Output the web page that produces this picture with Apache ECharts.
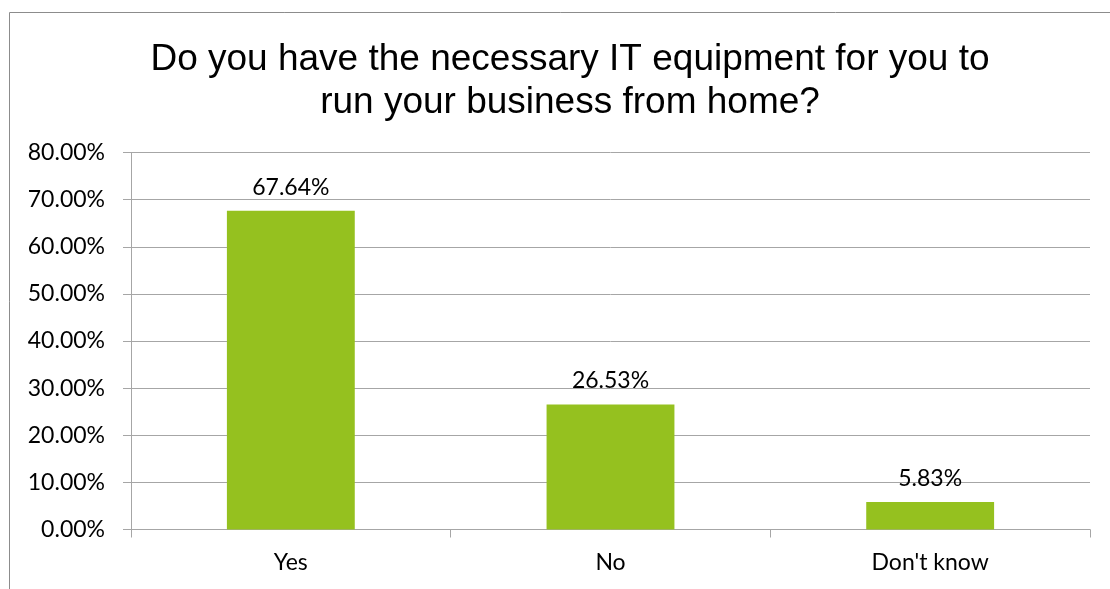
<!DOCTYPE html>
<html>
<head>
<meta charset="utf-8">
<script src="https://cdn.jsdelivr.net/npm/echarts@6/dist/echarts.min.js"></script>
<style>
  html, body { margin: 0; padding: 0; background: #fff; }
  #chart { width: 1110px; height: 589px; }
</style>
</head>
<body>
<div id="chart"></div>
<script>
// Survey answers and their shares
const categories = ['Yes', 'No', "Don't know"];
const shares = [0.6764, 0.2653, 0.0583];
const titleText = 'Do you have the necessary IT equipment for you to\nrun your business from home?';

const axisGray = '#a6a6a6';
const labelFont = 'Lato, "Open Sans", sans-serif';
const labelSize = 23;

const chart = echarts.init(document.getElementById('chart'));
chart.setOption({
  animation: false,
  backgroundColor: '#ffffff',
  graphic: [{
    type: 'rect',
    shape: { x: 9.5, y: 12.5, width: 1300, height: 800 },
    style: { fill: 'none', stroke: '#8c8c8c', lineWidth: 1 },
    silent: true
  }],
  title: {
    text: titleText,
    left: 565,
    top: 33,
    textAlign: 'center',
    textStyle: {
      fontFamily: '"Liberation Sans", Arial, sans-serif',
      fontSize: 37,
      fontWeight: 'normal',
      color: '#000',
      lineHeight: 43
    }
  },
  grid: { left: 131, right: 20, top: 152.5, bottom: 59.5, containLabel: false },
  xAxis: {
    type: 'category',
    data: categories,
    boundaryGap: true,
    axisLine: { show: true, lineStyle: { color: axisGray, width: 1 } },
    axisTick: { show: true, length: 8, alignWithLabel: false, lineStyle: { color: axisGray } },
    axisLabel: { margin: 22, fontFamily: labelFont, fontSize: labelSize, color: '#000' }
  },
  yAxis: {
    type: 'value',
    min: 0,
    max: 0.8,
    interval: 0.1,
    axisLine: { show: true, lineStyle: { color: axisGray, width: 1 } },
    axisTick: { show: true, length: 8, lineStyle: { color: axisGray } },
    splitLine: { show: true, lineStyle: { color: axisGray, width: 1 } },
    axisLabel: {
      margin: 26,
      fontFamily: labelFont,
      fontSize: labelSize,
      color: '#000',
      formatter: v => (v * 100).toFixed(2) + '%'
    }
  },
  series: [{
    type: 'bar',
    data: shares,
    barWidth: '40%',
    itemStyle: { color: '#95c11f' },
    label: {
      show: true,
      position: 'top',
      distance: 12,
      fontFamily: labelFont,
      fontSize: labelSize,
      color: '#000',
      formatter: p => (p.value * 100).toFixed(2) + '%'
    }
  }]
});
</script>
</body>
</html>
